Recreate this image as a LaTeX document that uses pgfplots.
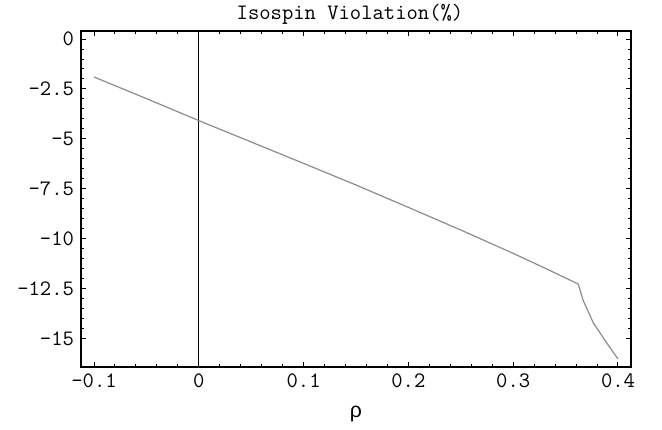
\documentclass[border=0pt]{standalone}
\usepackage{pgfplots}
\pgfplotsset{compat=1.18}
\usepackage{fontspec}
\newfontfamily\greekfont{Liberation Sans}

\begin{document}
\begin{tikzpicture}
\begin{axis}[
    scale only axis, width=275pt, height=168pt,
    xmin=-0.1124, xmax=0.4124, ymin=-16.4, ymax=0.4,
    xtick={-0.1,0,0.1,0.2,0.3,0.4},
    xticklabels={-0.1,0,0.1,0.2,0.3,0.4},
    ytick={-15,-12.5,-10,-7.5,-5,-2.5,0},
    yticklabels={-15,-12.5,-10,-7.5,-5,-2.5,0},
    minor x tick num=4, minor y tick num=4,
    major tick length=2.5pt, minor tick length=1.5pt,
    tick style={black, line width=0.5pt},
    axis line style={line width=0.7pt},
    ticklabel style={font=\ttfamily\fontsize{11}{12}\selectfont},
    xticklabel style={anchor=base, yshift=-10.5pt},
    every axis title shift=0pt,
    title={Isospin Violation(\%)},
    title style={font=\ttfamily\fontsize{11}{12}\selectfont, at={(0.5,1)}, anchor=base, yshift=6pt, xshift=-3pt},
    xlabel={ρ},
    xlabel style={font=\greekfont\fontsize{10.6}{12}\selectfont, at={(0.5,0)}, anchor=base, yshift=-25.5pt},
]
% vertical line at rho = 0
\addplot[black, line width=0.6pt] coordinates {(0,-16.4) (0,0.4)};
% isospin violation curve
\addplot[black!45, line width=0.6pt] coordinates {
    (-0.1,-1.9) (-0.05,-2.98) (0,-4.08) (0.05,-5.15) (0.1,-6.22)
    (0.15,-7.3) (0.2,-8.42) (0.25,-9.55) (0.3,-10.72) (0.33,-11.45)
    (0.362,-12.25) (0.367,-13.1) (0.3765,-14.2) (0.388,-15.1)
    (0.4,-16.0)
};
\coordinate (bl) at (rel axis cs:-0.1473,-0.1875);
\coordinate (tr) at (rel axis cs:1.0564,1.0923);
\end{axis}
\pgfresetboundingbox
\path[use as bounding box] (bl) rectangle (tr);
\end{tikzpicture}
\end{document}
